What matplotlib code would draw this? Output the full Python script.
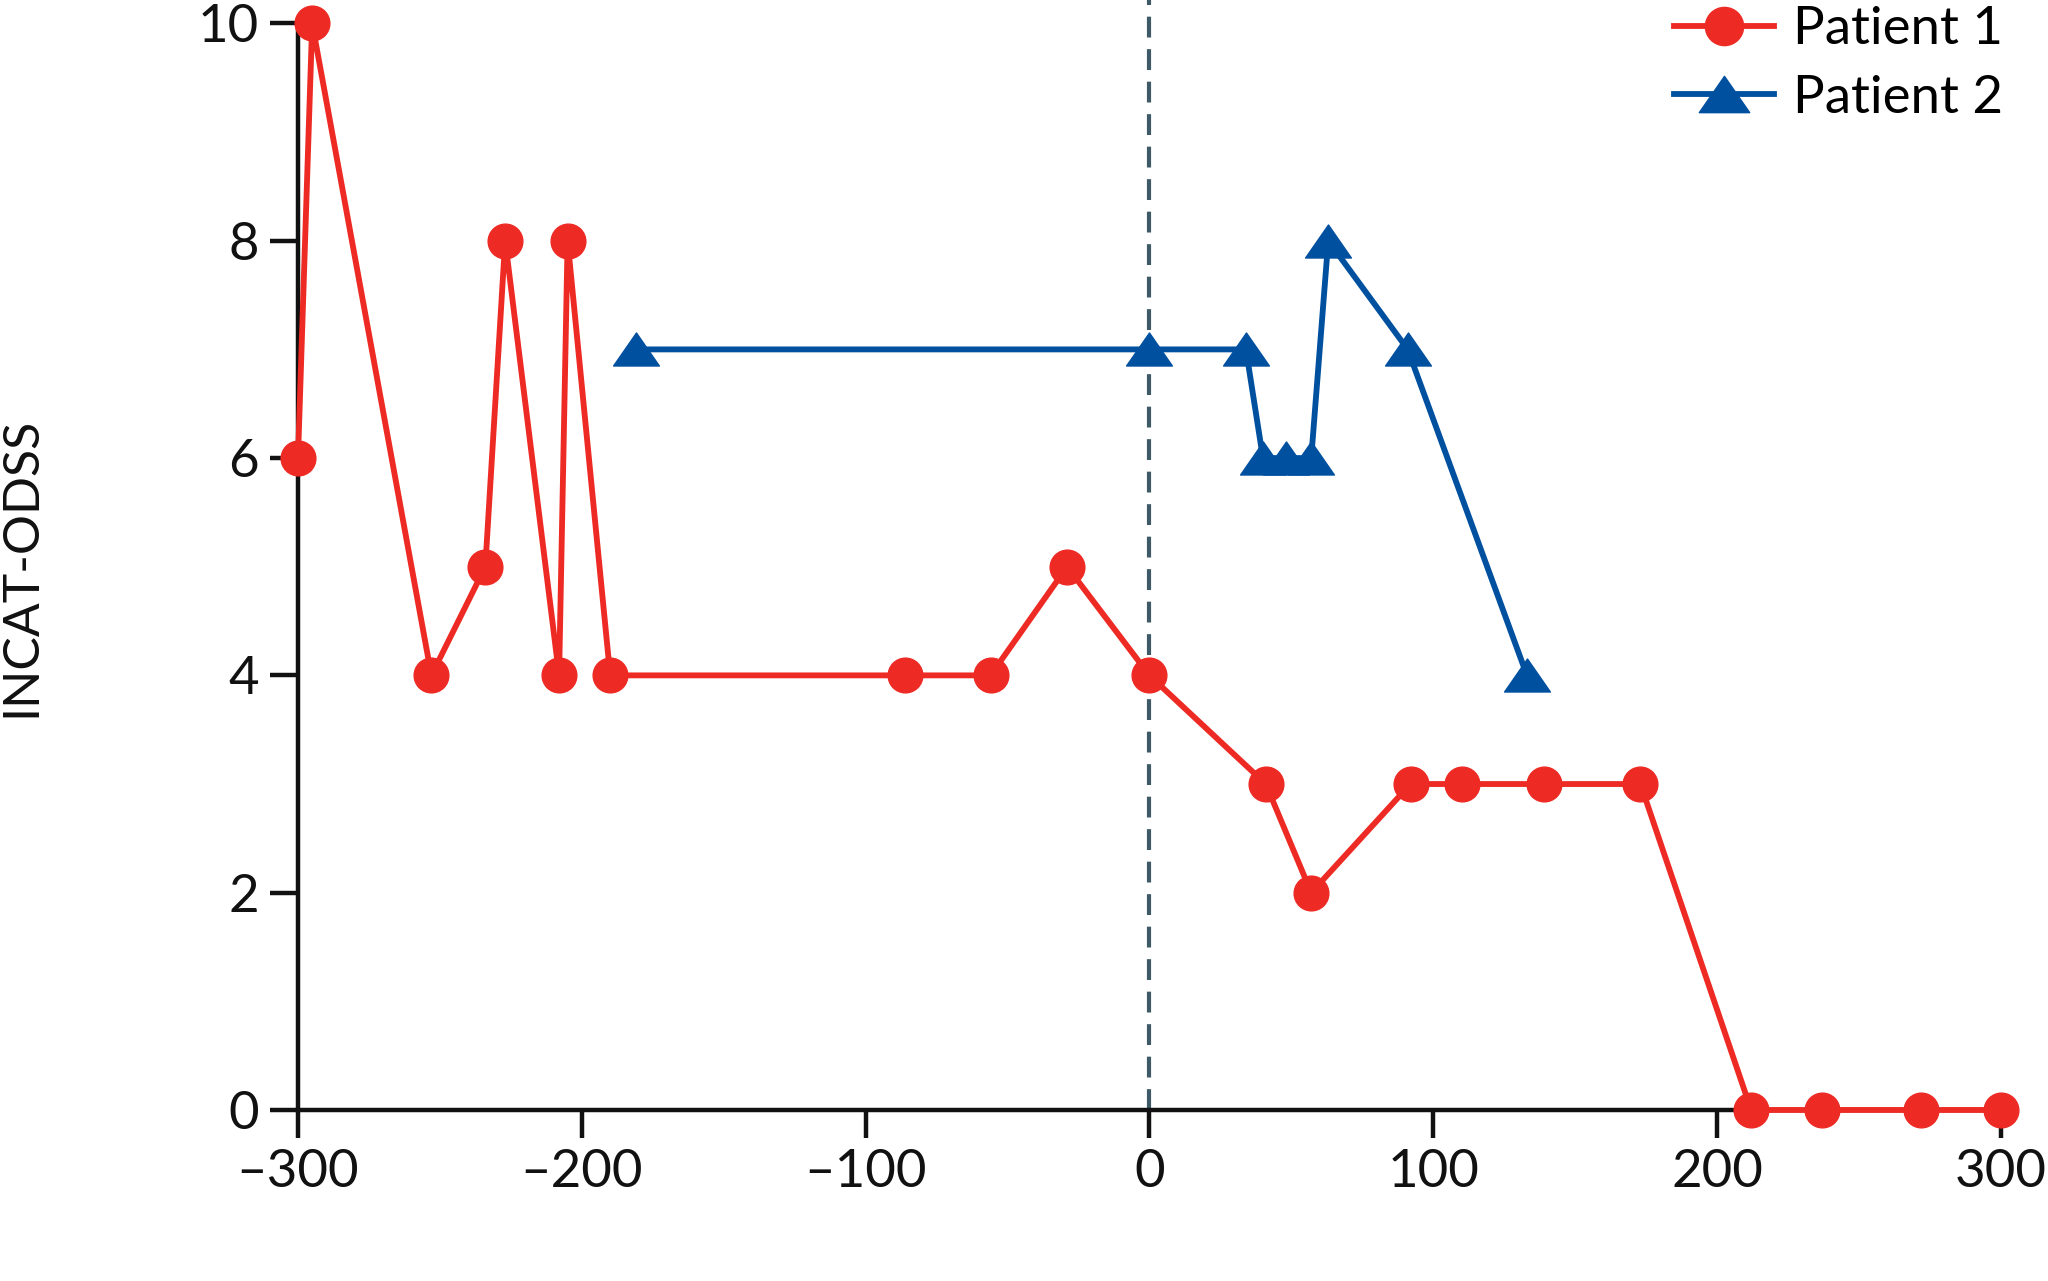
import numpy as np
import matplotlib.pyplot as plt
from matplotlib.path import Path

# Patient 1 (days vs INCAT-ODSS)
p1_days = [-300, -295, -253, -234, -227, -208, -205, -190, -86, -56, -29, 0,
           41, 57, 92, 110, 139, 173, 212, 237, 272, 300]
p1_score = [6, 10, 4, 5, 8, 4, 8, 4, 4, 4, 5, 4,
            3, 2, 3, 3, 3, 3, 0, 0, 0, 0]

# Patient 2
p2_days = [-181, 0, 34, 40, 48, 57, 63, 91, 133]
p2_score = [7, 7, 7, 6, 6, 6, 8, 7, 4]

x_ticks = [-300, -200, -100, 0, 100, 200, 300]
y_ticks = [0, 2, 4, 6, 8, 10]

red = '#ee2a24'
blue = '#0050a0'

plt.rcParams['font.family'] = ['Lato', 'DejaVu Sans']

fig = plt.figure(figsize=(20.48, 12.81), dpi=100)
ax = fig.add_axes([0.1455, 0.1335, 0.8315, 0.8482])

# flat triangle marker (wider than tall)
tri = Path([(-1, -0.72), (1, -0.72), (0, 0.72), (-1, -0.72)],
           [Path.MOVETO, Path.LINETO, Path.LINETO, Path.CLOSEPOLY])

ax.axvline(0, ymin=0, ymax=1.03, color='#3d5a66', lw=3, ls=(0, (5, 2.8)),
           zorder=1, clip_on=False)

ax.plot(p1_days, p1_score, color=red, lw=4.2, marker='o', markersize=25,
        label='Patient 1', zorder=3, clip_on=False)
ax.plot(p2_days, p2_score, color=blue, lw=4.2, marker=tri, markersize=33,
        label='Patient 2', zorder=3, clip_on=False)

ax.set_xlim(-300, 300)
ax.set_ylim(0, 10)
ax.set_xticks(x_ticks)
ax.set_yticks(y_ticks)
ax.set_xticklabels([str(t).replace('-', '\u2013') for t in x_ticks])

for s in ['top', 'right']:
    ax.spines[s].set_visible(False)
for s in ['left', 'bottom']:
    ax.spines[s].set_linewidth(3.2)
    ax.spines[s].set_color('#111111')

ax.tick_params(axis='both', direction='out', length=20, width=3.2,
               labelsize=38, color='#111111', labelcolor='#111111', pad=8)

ax.set_ylabel('INCAT-ODSS', fontsize=36, color='#111111')
ax.yaxis.set_label_coords(-0.149, 0.5)

ax.legend(loc='upper right', bbox_to_anchor=(0.978, 0.995),
          bbox_transform=fig.transFigure, frameon=False, fontsize=38,
          handlelength=1.9, handletextpad=0.35, labelspacing=0.4,
          borderpad=0, borderaxespad=0, markerscale=1.1)

fig.savefig('out.png', dpi=100, facecolor='white')
